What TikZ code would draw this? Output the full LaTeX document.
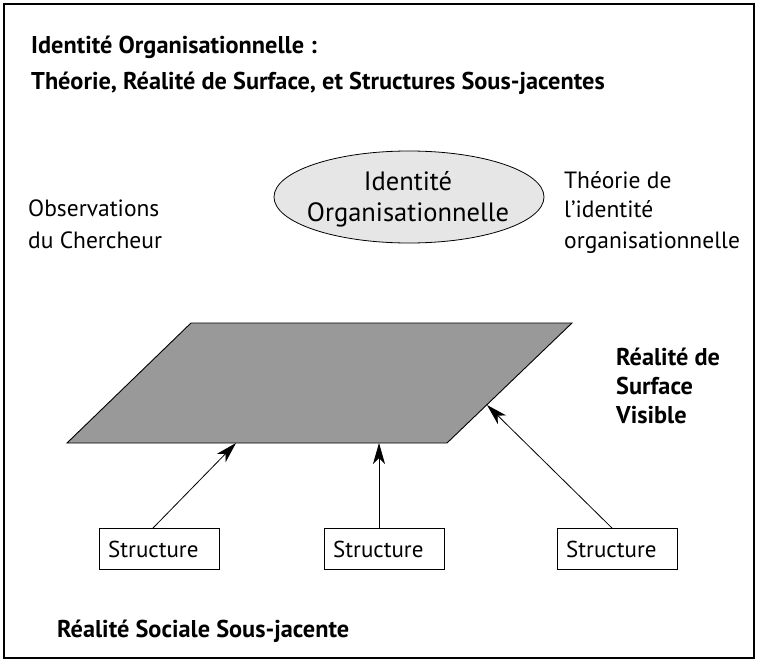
\documentclass[tikz,border=0pt]{standalone}
\usetikzlibrary{shapes.geometric,arrows.meta}
\usepackage{fontspec}
\setmainfont{PT Sans}
\definecolor{ellfill}{HTML}{E6E6E6}
\definecolor{surf}{HTML}{999999}
\begin{document}
\begin{tikzpicture}[x=1pt,y=-1pt,
  reg/.style={font=\fontsize{23.5}{28}\selectfont, inner sep=0pt, anchor=base west},
  ttl/.style={font=\bfseries\fontsize{24.3}{29}\selectfont, inner sep=0pt, anchor=base west},
  boxn/.style={draw, line width=0.9pt, minimum width=120pt, minimum height=41pt, inner sep=0pt},
  boxt/.style={font=\fontsize{23}{28}\selectfont, inner sep=0pt, anchor=base west},
  arr/.style={-{Stealth[length=21pt,width=12pt,inset=6pt]}, line width=0.8pt}]
\useasboundingbox (0,0) rectangle (760,663);
\draw[line width=2.2pt] (4,4) rectangle (754,658);
\node[ttl] (t1) at (31,54) {Identité Organisationnelle :};
\node[ttl] (t2) at (31,90) {Théorie, Réalité de Surface, et Structures Sous-jacentes};
\node[draw, ellipse, fill=ellfill, line width=0.8pt, minimum width=270pt, minimum height=92pt, inner sep=0pt] (id) at (409,197) {};
\node[font=\fontsize{26.5}{38}\selectfont, inner sep=0pt, anchor=base] (id1) at (408,190) {Identité};
\node[font=\fontsize{26.5}{38}\selectfont, inner sep=0pt, anchor=base] (id2) at (408,222) {Organisationnelle};
\node[reg] (obs1) at (28,217) {Observations};
\node[reg] (obs2) at (28,248) {du Chercheur};
\node[reg] (th1) at (564,189) {Théorie de};
\node[reg] (th2) at (564,218) {l’identité};
\node[reg] (th3) at (564,248) {organisationnelle};
\coordinate (p1) at (191,323);
\coordinate (p2) at (572,323);
\coordinate (p3) at (447,443);
\coordinate (p4) at (67,443);
\draw[fill=surf, line width=0.9pt, line join=miter] (p1) -- (p2) -- (p3) -- (p4) -- cycle;
\node[ttl] (rs1) at (616,365) {Réalité de};
\node[ttl] (rs2) at (616,394) {Surface};
\node[ttl] (rs3) at (616,423) {Visible};
\node[boxn] (s1) at (159,549) {};
\node[boxn] (s2) at (384.5,549) {};
\node[boxn] (s3) at (617,549) {};
\node[boxt] (st1) at (108,557) {Structure};
\node[boxt] (st2) at (333,557) {Structure};
\node[boxt] (st3) at (566,557) {Structure};
\coordinate (e1) at (236,443);
\coordinate (e2) at (379,443);
\coordinate (e3) at (487,405);
\draw[arr] (s1.north -| 153,0) -- (e1);
\draw[arr] (s2.north -| 379,0) -- (e2);
\draw[arr] (s3.north -| 612,0) -- (e3);
\node[ttl] (rss) at (57,637) {Réalité Sociale Sous-jacente};
\end{tikzpicture}
\end{document}
